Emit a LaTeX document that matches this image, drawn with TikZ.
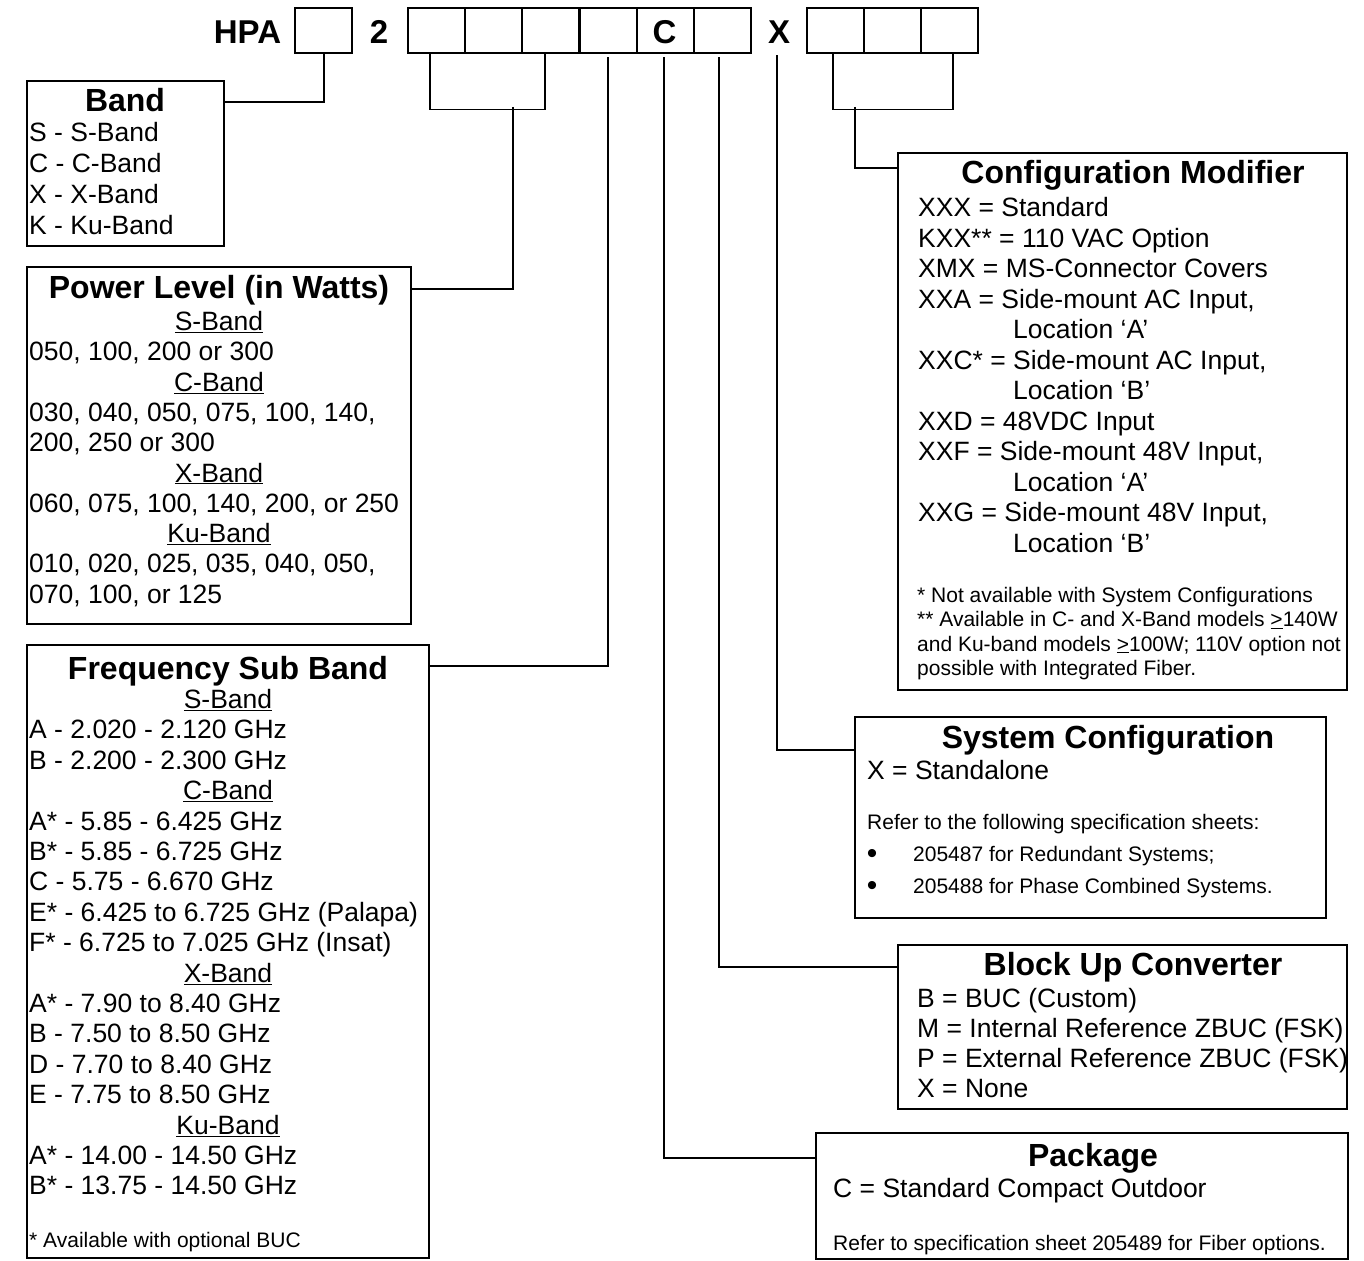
\documentclass[tikz,border=0pt]{standalone}
\usepackage{fontspec}
\setmainfont{Liberation Sans}
\begin{document}
\begin{tikzpicture}[x=1pt,y=-1pt,
  bx/.style={draw, line width=2pt, inner sep=0, anchor=north west},
  cell/.style={draw, line width=2.4pt, minimum width=57pt, minimum height=45pt, inner sep=0, anchor=north west},
  con/.style={line width=1.6pt},
  bd/.style={font=\fontsize{26.5}{30}\selectfont, inner sep=0, anchor=base west},
  sub/.style={font=\fontsize{26.5}{30}\selectfont, inner sep=0, anchor=base},
  ttl/.style={font=\fontsize{32}{36}\selectfont\bfseries, inner sep=0, anchor=base},
  sm/.style={font=\fontsize{21}{24}\selectfont, inner sep=0, anchor=base west},
  bul/.style={font=\fontsize{30}{32}\selectfont, inner sep=0, anchor=base},
  big/.style={font=\fontsize{33}{36}\selectfont\bfseries, inner sep=0, anchor=base}]
\useasboundingbox (0,0) rectangle (1364,1260);

% ---------- top code row ----------
\node[big] (hpa) at (247.5,44) {HPA};
\node[cell] (b1) at (294,7) {};
\node[big] (two) at (379,44) {2};
\node[cell] (g1) at (407,7) {};
\node[cell] (g2) at (464,7) {};
\node[cell] (g3) at (521,7) {};
\node[cell] (g4) at (579,7) {};
\node[cell] (g5) at (636,7) {};
\node[cell] (g6) at (693,7) {};
\node[big] (cl) at (664.5,44) {C};
\node[big] (xl) at (779,44) {X};
\node[cell] (h1) at (806,7) {};
\node[cell] (h2) at (863,7) {};
\node[cell] (h3) at (920,7) {};

% ---------- boxes ----------
\node[bx, minimum width=197pt, minimum height=165pt] (band) at (26,80) {};
\node[bx, minimum width=384pt, minimum height=357pt] (power) at (26,266) {};
\node[bx, minimum width=402pt, minimum height=613pt] (freq) at (26,644) {};
\node[bx, minimum width=449pt, minimum height=537pt] (cfg) at (897,152) {};
\node[bx, minimum width=471pt, minimum height=201pt] (sys) at (854,716) {};
\node[bx, minimum width=449pt, minimum height=164pt] (buc) at (897,944) {};
\node[bx, minimum width=532pt, minimum height=126pt] (pkg) at (815,1132) {};

% ---------- connectors ----------
\draw[con] (b1.south) |- ([yshift=-22pt]band.north east);
\draw[con] ([xshift=-6.5pt]g1.south) -- ++(0,55) -| ([xshift=-5.5pt]g3.south);
\coordinate (pj) at (513,107);
\draw[con] (pj) |- ([yshift=-23pt]power.north east);
\draw[con] ([xshift=-1pt,yshift=-3pt]g4.south) |- ([yshift=-22pt]freq.north east);
\draw[con] ([xshift=-1.5pt,yshift=-3pt]g5.south) |- ([yshift=-26pt]pkg.north west);
\draw[con] ([xshift=-3.5pt,yshift=-3pt]g6.south) |- ([yshift=-23pt]buc.north west);
\draw[con] ([xshift=-2pt,yshift=-11pt]xl.south) |- ([yshift=-34pt]sys.north west);
\draw[con] ([xshift=-2.5pt]h1.south) -- ++(0,55) -| ([xshift=3.5pt]h3.south);
\coordinate (cj) at (855,107);
\draw[con] (cj) |- ([yshift=-16pt]cfg.north west);

% ---------- Band ----------
\node[ttl] (bandT) at (125,111.5) {Band};
\node[bd] (band1) at (29,142) {S - S-Band};
\node[bd] (band2) at (29,172.5) {C - C-Band};
\node[bd] (band3) at (29,203) {X - X-Band};
\node[bd] (band4) at (29,234) {K - Ku-Band};

% ---------- Power ----------
\node[ttl] (powT) at (219,298.5) {Power Level (in Watts)};
\node[sub] (pow1) at (219,330.5) {\underline{S-Band}};
\node[bd] (pow2) at (29,360.8) {050, 100, 200 or 300};
\node[sub] (pow3) at (219,391.1) {\underline{C-Band}};
\node[bd] (pow4) at (29,421.4) {030, 040, 050, 075, 100, 140,};
\node[bd] (pow5) at (29,451.7) {200, 250 or 300};
\node[sub] (pow6) at (219,482) {\underline{X-Band}};
\node[bd] (pow7) at (29,512.3) {060, 075, 100, 140, 200, or 250};
\node[sub] (pow8) at (219,542.6) {\underline{Ku-Band}};
\node[bd] (pow9) at (29,572.9) {010, 020, 025, 035, 040, 050,};
\node[bd] (pow10) at (29,603.2) {070, 100, or 125};

% ---------- Frequency Sub Band ----------
\node[ttl] (frT) at (228,679.5) {Frequency Sub Band};
\node[sub] (fr0) at (228,708.5) {\underline{S-Band}};
\node[bd] (fr1) at (29,738.9) {A - 2.020 - 2.120 GHz};
\node[bd] (fr2) at (29,769.3) {B - 2.200 - 2.300 GHz};
\node[sub] (fr3) at (228,799.7) {\underline{C-Band}};
\node[bd] (fr4) at (29,830.1) {A* - 5.85 - 6.425 GHz};
\node[bd] (fr5) at (29,860.5) {B* - 5.85 - 6.725 GHz};
\node[bd] (fr6) at (29,890.9) {C - 5.75 - 6.670 GHz};
\node[bd] (fr7) at (29,921.3) {E* - 6.425 to 6.725 GHz (Palapa)};
\node[bd] (fr8) at (29,951.7) {F* - 6.725 to 7.025 GHz (Insat)};
\node[sub] (fr9) at (228,982.1) {\underline{X-Band}};
\node[bd] (fr10) at (29,1012.5) {A* - 7.90 to 8.40 GHz};
\node[bd] (fr11) at (29,1042.9) {B - 7.50 to 8.50 GHz};
\node[bd] (fr12) at (29,1073.3) {D - 7.70 to 8.40 GHz};
\node[bd] (fr13) at (29,1103.7) {E - 7.75 to 8.50 GHz};
\node[sub] (fr14) at (228,1134.1) {\underline{Ku-Band}};
\node[bd] (fr15) at (29,1164.5) {A* - 14.00 - 14.50 GHz};
\node[bd] (fr16) at (29,1194.9) {B* - 13.75 - 14.50 GHz};
\node[sm] (frN) at (29,1247.5) {* Available with optional BUC};

% ---------- Configuration Modifier ----------
\node[ttl] (cfT) at (1133,183.5) {Configuration Modifier};
\node[bd] (cf0) at (918,216.5) {XXX = Standard};
\node[bd] (cf1) at (918,247) {KXX** = 110 VAC Option};
\node[bd] (cf2) at (918,277.5) {XMX = MS-Connector Covers};
\node[bd] (cf3) at (918,308) {XXA = Side-mount AC Input,};
\node[bd] (cf4) at (1013,338.5) {Location ‘A’};
\node[bd] (cf5) at (918,369) {XXC* = Side-mount AC Input,};
\node[bd] (cf6) at (1013,399.5) {Location ‘B’};
\node[bd] (cf7) at (918,430) {XXD = 48VDC Input};
\node[bd] (cf8) at (918,460.5) {XXF = Side-mount 48V Input,};
\node[bd] (cf9) at (1013,491) {Location ‘A’};
\node[bd] (cf10) at (918,521.5) {XXG = Side-mount 48V Input,};
\node[bd] (cf11) at (1013,552) {Location ‘B’};
\node[sm] (cfN1) at (917,602.5) {* Not available with System Configurations};
\node[sm] (cfN2) at (917,626.8) {** Available in C- and X-Band models \underline{>}140W};
\node[sm] (cfN3) at (917,651.1) {and Ku-band models \underline{>}100W; 110V option not};
\node[sm] (cfN4) at (917,675.4) {possible with Integrated Fiber.};

% ---------- System Configuration ----------
\node[ttl] (syT) at (1108,748.5) {System Configuration};
\node[bd] (sy1) at (867,779.5) {X = Standalone};
\node[sm] (sy2) at (867,829.5) {Refer to the following specification sheets:};
\node[bul] (syb1) at (872,863) {\textbullet};
\node[sm] (sy3) at (913,861.5) {205487 for Redundant Systems;};
\node[bul] (syb2) at (872,895) {\textbullet};
\node[sm] (sy4) at (913,893.5) {205488 for Phase Combined Systems.};

% ---------- Block Up Converter ----------
\node[ttl] (buT) at (1133,975.5) {Block Up Converter};
\node[bd] (bu1) at (917,1007.5) {B = BUC (Custom)};
\node[bd] (bu2) at (917,1037.5) {M = Internal Reference ZBUC (FSK)};
\node[bd] (bu3) at (917,1067.5) {P = External Reference ZBUC (FSK)};
\node[bd] (bu4) at (917,1097.5) {X = None};

% ---------- Package ----------
\node[ttl] (pkT) at (1093,1166.5) {Package};
\node[bd] (pk1) at (833,1197.5) {C = Standard Compact Outdoor};
\node[sm] (pk2) at (833,1250.5) {Refer to specification sheet 205489 for Fiber options.};
\end{tikzpicture}
\end{document}
